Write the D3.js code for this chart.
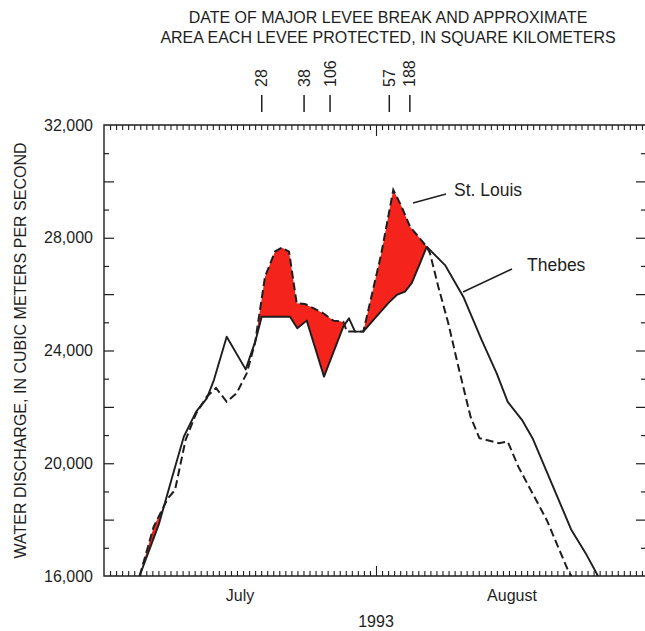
<!DOCTYPE html>
<html>
<head>
<meta charset="utf-8">
<script src="https://cdn.jsdelivr.net/npm/d3@7"></script>
<style>
  html, body { margin: 0; padding: 0; background: #fff; }
  svg { display: block; }
  text { font-family: "Liberation Sans", Arial, Helvetica, sans-serif; fill: #1e1e1e; }
</style>
</head>
<body>
<svg id="chart" width="645" height="631"></svg>
<script>
// ---- Data (x = day offset from the left edge of the time axis) ----
const thebesDay = [5.89, 9.10, 11.45, 13.20, 15.25, 17.01, 18.18, 20.30, 23.44, 25.10, 26.09, 29.95, 30.77, 31.98, 33.54, 36.40, 39.59, 40.53, 41.53, 42.90, 44.55, 47.04, 48.43, 49.80, 50.91, 52.28, 53.39, 56.42, 59.44, 62.49, 64.97, 66.79, 69.14, 70.90, 73.82, 77.33, 79.68, 81.73];
const thebesQ = [16000, 17850, 19640, 20940, 21830, 22300, 22950, 24490, 23330, 24370, 25200, 25200, 25200, 24790, 25060, 23070, 24850, 25140, 24670, 24670, 25080, 25680, 25970, 26090, 26390, 27090, 27680, 27030, 25910, 24370, 23190, 22180, 21540, 20890, 19410, 17630, 16810, 16000];

const stlDay = [5.89, 8.22, 10.57, 11.75, 13.50, 15.25, 16.99, 18.53, 20.30, 21.95, 23.61, 24.98, 26.64, 28.29, 29.40, 30.61, 31.88, 33.25, 34.63, 36.28, 37.94, 39.59, 40.20, 42.90, 43.73, 45.83, 47.86, 49.25, 50.63, 52.00, 53.39, 53.93, 55.31, 56.96, 58.62, 60.64, 62.11, 65.33, 66.79, 68.54, 73.24, 76.75, 77.33];
const stlQ = [16000, 17750, 18760, 19050, 20830, 21770, 22360, 22670, 22180, 22490, 23190, 24260, 26620, 27510, 27650, 27510, 25680, 25650, 25500, 25320, 25060, 25020, 24670, 24670, 25440, 27390, 29700, 29100, 28390, 28040, 27680, 27450, 26260, 24970, 23430, 21650, 20890, 20710, 20770, 19880, 17990, 16210, 16000];

const leveeDay = [26.1, 33.1, 37.4, 47.2, 50.6];
const leveeArea = ["28", "38", "106", "57", "188"];

const yTicks = [16000, 20000, 24000, 28000, 32000];
const monthLabels = ["July", "August"];
const monthDay = [22.5, 67.5];
const yearLabel = "1993";
const yearDay = 45;
const titleLines = ["DATE OF MAJOR LEVEE BREAK AND APPROXIMATE", "AREA EACH LEVEE PROTECTED, IN SQUARE KILOMETERS"];
const yTitle = "WATER DISCHARGE, IN CUBIC METERS PER SECOND";

(function () {
// ---- Layout ----
const svg = d3.select("#chart");
const pL = 104, pR = 648, pT = 125, pB = 576;
const x = d3.scaleLinear().domain([0, 90]).range([pL, pR]);
const y = d3.scaleLinear().domain([16000, 32000]).range([pB, pT]);
const ink = "#1e1e1e";
const fs = 16;

const thebes = thebesDay.map((d, i) => [d, thebesQ[i]]);
const stl = stlDay.map((d, i) => [d, stlQ[i]]);

// ---- Red fill: St. Louis above Thebes ----
const defs = svg.append("defs");
defs.append("clipPath").attr("id", "aboveThebes")
  .append("path")
  .attr("d", d3.area().x(d => x(d[0])).y0(pT).y1(d => y(d[1]))(thebes));
svg.append("path")
  .attr("clip-path", "url(#aboveThebes)")
  .attr("d", d3.area().x(d => x(d[0])).y0(pB).y1(d => y(d[1]))(stl))
  .attr("fill", "#f4231c");

// ---- Axes ----
const dayTicks = d3.range(1, 90);
const xTop = d3.axisTop(x).tickValues(dayTicks).tickSize(-5).tickFormat("");
const xBot = d3.axisBottom(x).tickValues(dayTicks).tickSize(-5).tickFormat("");
const gTop = svg.append("g").attr("transform", `translate(0,${pT})`).call(xTop);
const gBot = svg.append("g").attr("transform", `translate(0,${pB})`).call(xBot);
[gTop, gBot].forEach(g => {
  g.select(".domain").remove();
  g.selectAll("line").attr("stroke", ink).attr("stroke-width", 1.1);
});
gTop.selectAll(".tick").filter(d => d === 45).select("line").attr("y2", 11);
gBot.selectAll(".tick").filter(d => d === 45).select("line").attr("y2", -10);

const yMinor = d3.range(17000, 32000, 1000);
const gLeft = svg.append("g").attr("transform", `translate(${pL},0)`)
  .call(d3.axisLeft(y).tickValues(yMinor).tickSize(0).tickFormat(""));
gLeft.select(".domain").remove();
gLeft.selectAll(".tick line")
  .attr("x2", d => (d % 2000 === 0 ? 10 : 5)).attr("stroke", ink).attr("stroke-width", 1.2);
const gRight = svg.append("g").attr("transform", `translate(645,0)`)
  .call(d3.axisRight(y).tickValues(yMinor).tickSize(0).tickFormat(""));
gRight.select(".domain").remove();
gRight.selectAll(".tick line")
  .attr("x2", d => (d % 2000 === 0 ? -9 : -4)).attr("stroke", ink).attr("stroke-width", 1.2);

svg.append("path")
  .attr("d", `M${pR},${pT}H${pL}V${pB}H${pR}`)
  .attr("fill", "none").attr("stroke", ink).attr("stroke-width", 1.4);

svg.append("g").selectAll("text").data(yTicks).join("text")
  .attr("x", 93).attr("y", d => y(d)).attr("dy", "0.35em")
  .attr("text-anchor", "end").attr("font-size", fs)
  .text(d => d3.format(",")(d));

svg.append("g").selectAll("text").data(monthLabels).join("text")
  .attr("x", (d, i) => x(monthDay[i])).attr("y", 601)
  .attr("text-anchor", "middle").attr("font-size", fs)
  .text(d => d);
svg.append("text").attr("x", x(yearDay)).attr("y", 627)
  .attr("text-anchor", "middle").attr("font-size", fs).text(yearLabel);

svg.append("text")
  .attr("transform", `translate(26,${(pT + pB) / 2}) rotate(-90)`)
  .attr("text-anchor", "middle").attr("font-size", fs)
  .text(yTitle);

svg.append("g").selectAll("text").data(titleLines).join("text")
  .attr("x", 388).attr("y", (d, i) => 23 + i * 19.5)
  .attr("text-anchor", "middle").attr("font-size", fs)
  .text(d => d);

const lv = svg.append("g");
lv.selectAll("line").data(leveeDay).join("line")
  .attr("x1", d => x(d)).attr("x2", d => x(d))
  .attr("y1", 95).attr("y2", 112)
  .attr("stroke", ink).attr("stroke-width", 1.5);
lv.selectAll("text").data(leveeDay).join("text")
  .attr("transform", d => `translate(${x(d) + 5.5},87) rotate(-90)`)
  .attr("text-anchor", "start").attr("font-size", fs)
  .text((d, i) => leveeArea[i]);

// ---- Lines ----
const line = d3.line().x(d => x(d[0])).y(d => y(d[1]));
svg.append("path").attr("d", line(thebes))
  .attr("fill", "none").attr("stroke", ink).attr("stroke-width", 1.9)
  .attr("stroke-linejoin", "round");
svg.append("path").attr("d", line(stl))
  .attr("fill", "none").attr("stroke", ink).attr("stroke-width", 2)
  .attr("stroke-dasharray", "8,4");

// ---- Annotations ----
svg.append("line").attr("x1", 413).attr("y1", 203).attr("x2", 446).attr("y2", 194)
  .attr("stroke", ink).attr("stroke-width", 1.5);
svg.append("text").attr("x", 454).attr("y", 196).attr("font-size", 17.5).text("St. Louis");
svg.append("line").attr("x1", 463).attr("y1", 292).attr("x2", 512).attr("y2", 269)
  .attr("stroke", ink).attr("stroke-width", 1.5);
svg.append("text").attr("x", 527).attr("y", 271).attr("font-size", 17.5).text("Thebes");
})();
</script>
</body>
</html>
